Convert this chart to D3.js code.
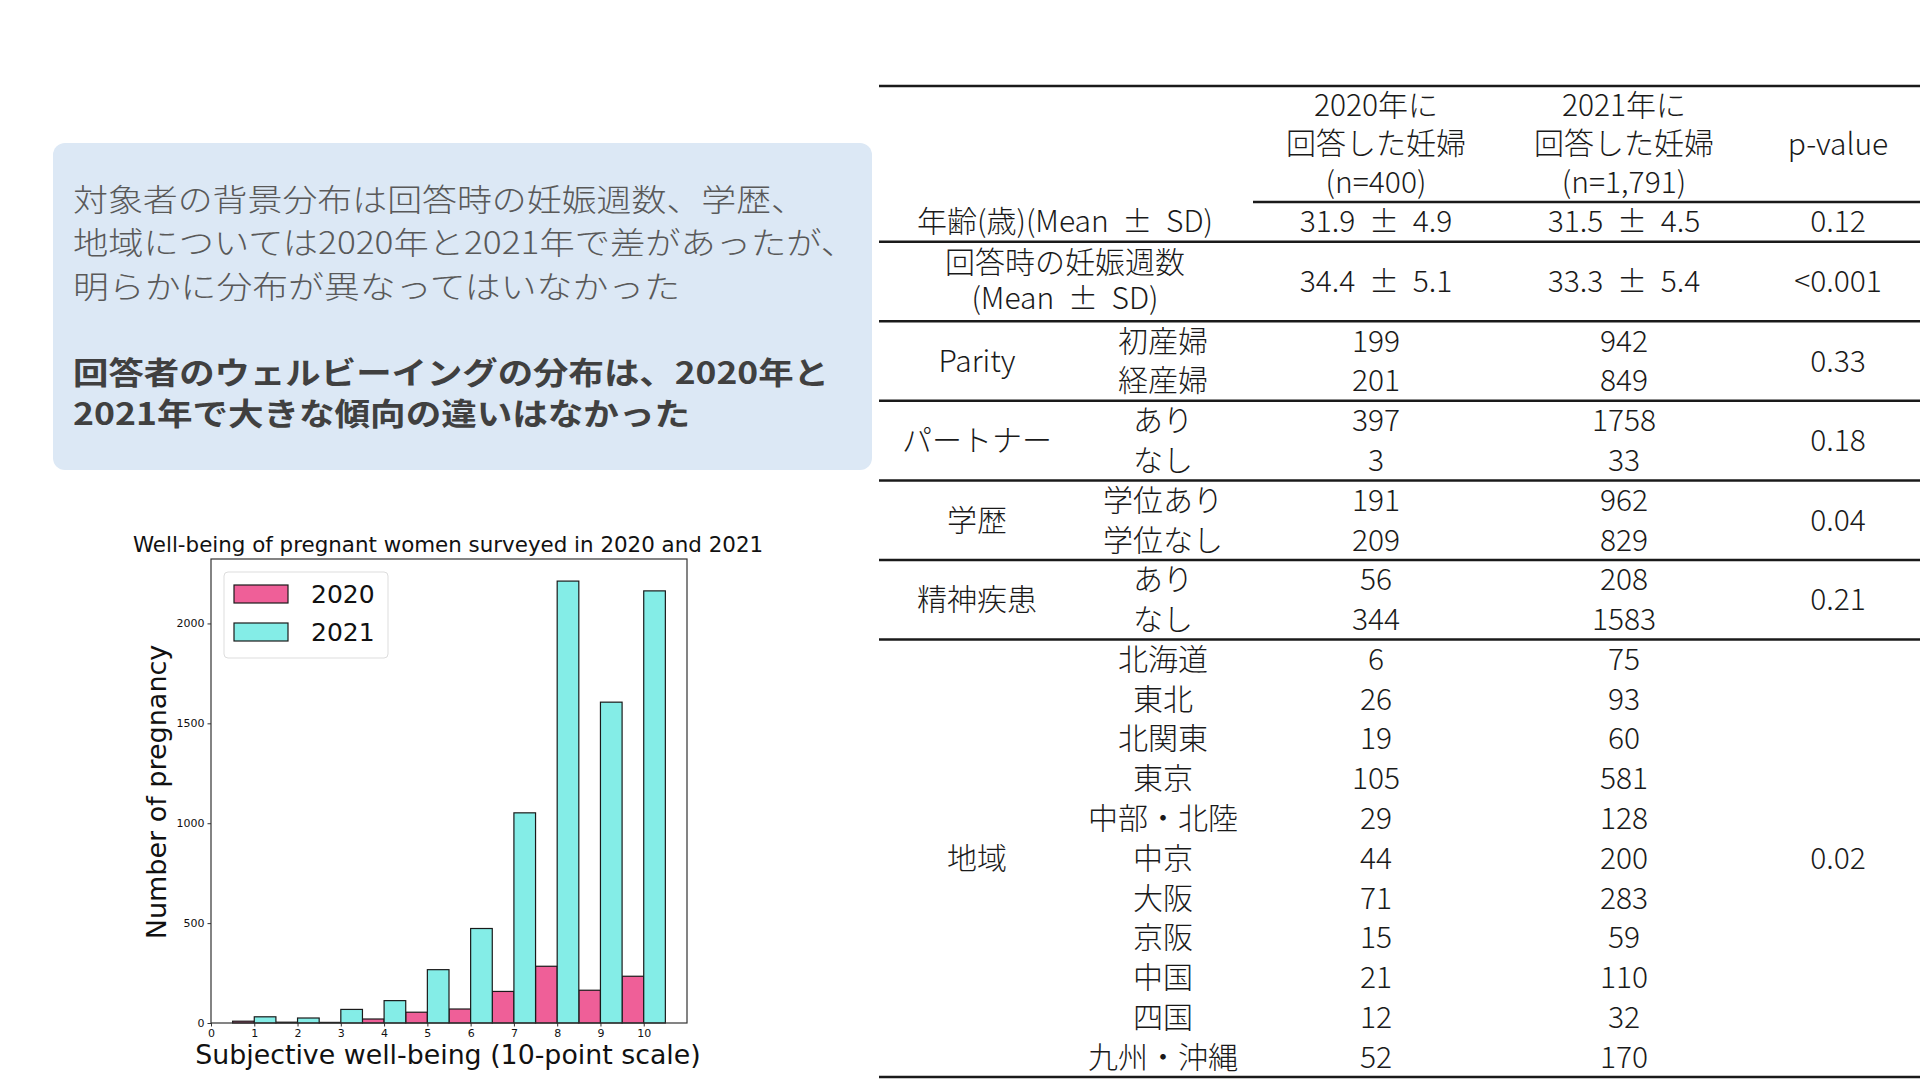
<!DOCTYPE html>
<html>
<head>
    <meta charset="utf-8">
    <script type="text/javascript" src="https://cdn.jsdelivr.net/npm/d3@7"></script>
    <style>
        body { margin: 0; background: #fff; }
    </style>
</head>
<body>
    <div id="slide"></div>
    <script type="text/javascript">

        // histogram: well-being score vs number of pregnant women
        const scores = [1, 2, 3, 4, 5, 6, 7, 8, 9, 10];
        const counts2020 = [9, 4, 3, 20, 54, 70, 158, 284, 164, 234];
        const counts2021 = [31, 25, 68, 112, 267, 473, 1052, 2212, 1606, 2163];
        const yTicks = [0, 500, 1000, 1500, 2000];
        const seriesNames = ["2020", "2021"];
        const seriesColors = ["#ef5f98", "#84ede7"];

        // summary text in the blue box
        const noteLines = ["対象者の背景分布は回答時の妊娠週数、学歴、",
            "地域については2020年と2021年で差があったが、",
            "明らかに分布が異なってはいなかった"];
        const boldLines = ["回答者のウェルビーイングの分布は、2020年と",
            "2021年で大きな傾向の違いはなかった"];

        // table
        const headers = [["2020年に", "回答した妊婦", "(n=400)"],
            ["2021年に", "回答した妊婦", "(n=1,791)"],
            ["p-value"]];
        const groupLabels = [["年齢(歳)(Mean ± SD)"], ["回答時の妊娠週数", "(Mean ± SD)"],
            ["Parity"], ["パートナー"], ["学歴"], ["精神疾患"], ["地域"]];
        const subLabels = [[], [], ["初産婦", "経産婦"], ["あり", "なし"], ["学位あり", "学位なし"],
            ["あり", "なし"],
            ["北海道", "東北", "北関東", "東京", "中部・北陸", "中京", "大阪", "京阪", "中国", "四国", "九州・沖縄"]];
        const values2020 = [["31.9 ± 4.9"], ["34.4 ± 5.1"], [199, 201], [397, 3], [191, 209], [56, 344],
            [6, 26, 19, 105, 29, 44, 71, 15, 21, 12, 52]];
        const values2021 = [["31.5 ± 4.5"], ["33.3 ± 5.4"], [942, 849], [1758, 33], [962, 829], [208, 1583],
            [75, 93, 60, 581, 128, 200, 283, 59, 110, 32, 170]];
        const pValues = ["0.12", "<0.001", "0.33", "0.18", "0.04", "0.21", "0.02"];

        const W = 1920, H = 1080;
        const jp = "'Noto Sans CJK JP', 'Noto Sans', sans-serif";
        const mpl = "'DejaVu Sans', sans-serif";

        let svg = d3.select("#slide")
        .append("svg")
        .attr("width", W)
        .attr("height", H)
        .style("background-color", "white");

        // ---- blue note box ----
        svg.append("rect")
        .attr("x", 53).attr("y", 143)
        .attr("width", 819).attr("height", 327)
        .attr("rx", 12)
        .style("fill", "#dce8f5");

        const noteWidths = [733, 783, 607];
        svg.selectAll("text.note")
        .data(noteLines)
        .enter()
        .append("text")
        .attr("class", "note")
        .attr("x", 73)
        .attr("y", (d, i) => 200 + i * 43.5)
        .attr("dy", "0.35em")
        .attr("textLength", (d, i) => noteWidths[i])
        .attr("lengthAdjust", "spacingAndGlyphs")
        .style("font-family", jp)
        .style("font-weight", 300)
        .style("font-size", "31px")
        .style("fill", "#595959")
        .text(d => d);

        const boldWidths = [756, 617];
        svg.selectAll("text.bold")
        .data(boldLines)
        .enter()
        .append("text")
        .attr("class", "bold")
        .attr("x", 73)
        .attr("y", (d, i) => 373 + i * 41)
        .attr("dy", "0.35em")
        .attr("textLength", (d, i) => boldWidths[i])
        .attr("lengthAdjust", "spacingAndGlyphs")
        .style("font-family", jp)
        .style("font-weight", 700)
        .style("font-size", "31px")
        .style("fill", "#404040")
        .text(d => d);

        // ---- histogram ----
        const x = d3.scaleLinear().domain([0, 11]).range([211, 687]);
        const yMax = d3.max(counts2020.concat(counts2021)) * 1.05;
        const y = d3.scaleLinear().domain([0, yMax]).range([1023, 559]);

        const chart = svg.append("g");

        chart.append("text")
        .attr("x", 448).attr("y", 545)
        .attr("dy", "0.35em")
        .attr("text-anchor", "middle")
        .style("font-family", mpl)
        .style("font-size", "21.4px")
        .style("fill", "#111")
        .text("Well-being of pregnant women surveyed in 2020 and 2021");

        const seriesData = [counts2020, counts2021];
        seriesData.forEach((vals, s) => {
            chart.selectAll("rect.s" + s)
            .data(vals)
            .enter()
            .append("rect")
            .attr("class", "s" + s)
            .attr("x", (d, i) => x(scores[i] - 0.5 + s * 0.5))
            .attr("width", x(0.5) - x(0))
            .attr("y", d => y(d))
            .attr("height", d => y(0) - y(d))
            .style("fill", seriesColors[s])
            .style("stroke", "#1a1a1a")
            .style("stroke-width", 1.2);
        });

        // frame
        chart.append("rect")
        .attr("x", x(0)).attr("y", y(yMax))
        .attr("width", x(11) - x(0)).attr("height", y(0) - y(yMax))
        .style("fill", "none")
        .style("stroke", "#333")
        .style("stroke-width", 1.2);

        const xAxis = chart.append("g")
        .attr("transform", `translate(0,${y(0)})`)
        .call(d3.axisBottom(x).tickValues(d3.range(0, 11)).tickSize(3.5).tickFormat(d3.format("d")));
        const yAxis = chart.append("g")
        .attr("transform", `translate(${x(0)},0)`)
        .call(d3.axisLeft(y).tickValues(yTicks).tickSize(3.5).tickFormat(d3.format("d")));
        [xAxis, yAxis].forEach(a => {
            a.select(".domain").remove();
            a.selectAll("line").style("stroke", "#333");
            a.selectAll("text")
            .style("font-family", mpl)
            .style("font-size", "11px")
            .style("fill", "#111");
        });

        chart.append("text")
        .attr("x", 448).attr("y", 1055)
        .attr("dy", "0.35em")
        .attr("text-anchor", "middle")
        .style("font-family", mpl)
        .style("font-size", "26.8px")
        .style("fill", "#111")
        .text("Subjective well-being (10-point scale)");

        chart.append("text")
        .attr("transform", "translate(157,792) rotate(-90)")
        .attr("dy", "0.35em")
        .attr("text-anchor", "middle")
        .style("font-family", mpl)
        .style("font-size", "27px")
        .style("fill", "#111")
        .text("Number of pregnancy");

        // legend
        const legend = chart.append("g");
        legend.append("rect")
        .attr("x", 224).attr("y", 572)
        .attr("width", 164).attr("height", 86)
        .attr("rx", 4)
        .style("fill", "rgba(255,255,255,0.8)")
        .style("stroke", "#ddd");
        legend.selectAll("rect.key")
        .data(seriesNames)
        .enter()
        .append("rect")
        .attr("class", "key")
        .attr("x", 234)
        .attr("y", (d, i) => 585 + i * 38)
        .attr("width", 54).attr("height", 18)
        .style("fill", (d, i) => seriesColors[i])
        .style("stroke", "#1a1a1a")
        .style("stroke-width", 1.2);
        legend.selectAll("text.key")
        .data(seriesNames)
        .enter()
        .append("text")
        .attr("class", "key")
        .attr("x", 311)
        .attr("y", (d, i) => 594 + i * 38)
        .attr("dy", "0.35em")
        .style("font-family", mpl)
        .style("font-size", "25px")
        .style("fill", "#111")
        .text(d => d);

        // ---- table ----
        const tLeft = 879, tRight = 1920;
        const colX = { label: 977, sub: 1163, v2020: 1376, v2021: 1624, p: 1838, span: 1065 };
        const table = svg.append("g")
        .style("font-family", jp)
        .style("font-weight", 300)
        .style("font-size", "30px")
        .style("word-spacing", "7px")
        .style("fill", "#1a1a1a");

        // header
        const headX = [colX.v2020, colX.v2021, colX.p];
        headers.forEach((lines, c) => {
            table.selectAll(null)
            .data(lines)
            .enter()
            .append("text")
            .attr("x", headX[c])
            .attr("y", (d, i) => lines.length === 1 ? 144 : 105 + i * 38.5)
            .attr("dy", "0.35em")
            .attr("text-anchor", "middle")
            .text(d => d);
        });

        // row positions: each group takes as many lines as its longest column
        const groupLines = groupLabels.map((g, i) => Math.max(g.length, subLabels[i].length, 1));
        const starts = [0];
        groupLines.forEach(n => starts.push(starts[starts.length - 1] + n));
        const rowY = d3.scaleLinear().domain([0, starts[starts.length - 1]]).range([202, 1077]);

        groupLabels.forEach((g, i) => {
            const top = rowY(starts[i]), bottom = rowY(starts[i + 1]);
            const mid = (top + bottom) / 2;
            const lineY = k => rowY(starts[i] + k + 0.5);
            const spans = subLabels[i].length === 0;

            table.selectAll(null)
            .data(g)
            .enter()
            .append("text")
            .attr("x", spans ? colX.span : colX.label)
            .attr("y", (d, k) => g.length === 1 ? mid : lineY(k) + (k === 0 ? 1 : -3))
            .attr("dy", "0.35em")
            .attr("text-anchor", "middle")
            .text(d => d);

            table.selectAll(null)
            .data(subLabels[i])
            .enter()
            .append("text")
            .attr("x", colX.sub)
            .attr("y", (d, k) => lineY(k))
            .attr("dy", "0.35em")
            .attr("text-anchor", "middle")
            .text(d => d);

            [[values2020[i], colX.v2020], [values2021[i], colX.v2021]].forEach(([vals, cx]) => {
                table.selectAll(null)
                .data(vals)
                .enter()
                .append("text")
                .attr("x", cx)
                .attr("y", (d, k) => vals.length === 1 ? mid : lineY(k))
                .attr("dy", "0.35em")
                .attr("text-anchor", "middle")
                .text(d => d);
            });

            table.append("text")
            .attr("x", colX.p)
            .attr("y", mid)
            .attr("dy", "0.35em")
            .attr("text-anchor", "middle")
            .text(pValues[i]);
        });

        // rules
        const rules = [{ y: 86, x1: tLeft, w: 2.5 }, { y: rowY(0), x1: 1253, w: 2.5 }];
        starts.slice(1).forEach(s => rules.push({ y: rowY(s), x1: tLeft, w: 2.5 }));
        table.selectAll("line.rule")
        .data(rules)
        .enter()
        .append("line")
        .attr("class", "rule")
        .attr("x1", d => d.x1).attr("x2", tRight)
        .attr("y1", d => d.y).attr("y2", d => d.y)
        .style("stroke", "#1a1a1a")
        .style("stroke-width", d => d.w);

    </script>
</body>
</html>
